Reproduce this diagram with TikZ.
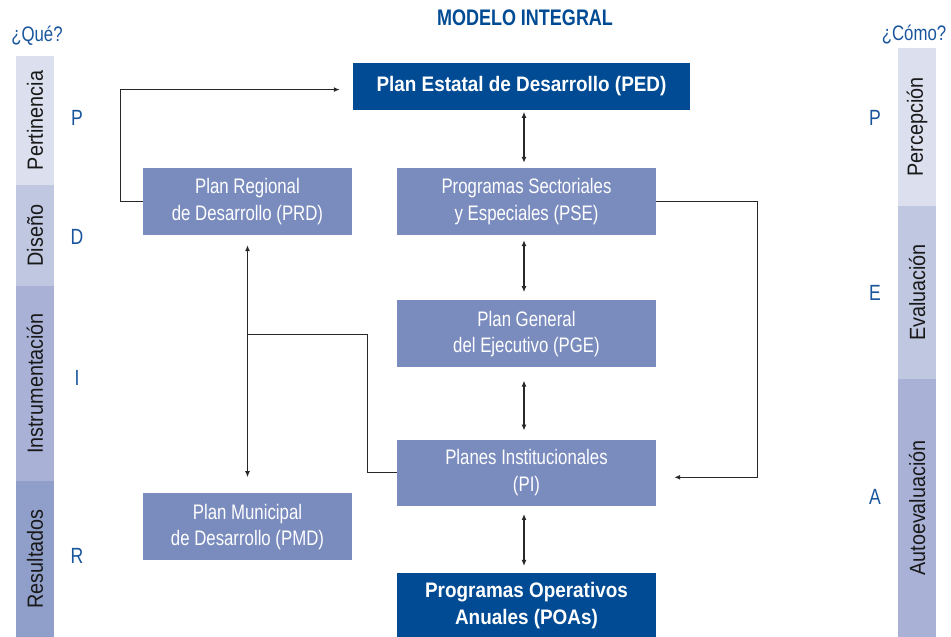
\documentclass[tikz,border=0pt]{standalone}
\usepackage{fontspec}
\setmainfont{Liberation Sans}
\newfontfamily\condfont[FakeStretch=0.8]{Liberation Sans}
\newfontfamily\halffont[FakeStretch=0.9]{Liberation Sans}
\usetikzlibrary{positioning,arrows.meta}
\definecolor{azul}{RGB}{0,75,147}
\definecolor{azulclaro}{RGB}{122,139,190}
\definecolor{letra}{RGB}{25,85,157}
\definecolor{barA}{RGB}{220,223,238}
\definecolor{barB}{RGB}{192,199,224}
\definecolor{barC}{RGB}{169,178,214}
\definecolor{barD}{RGB}{143,159,202}
\definecolor{linea}{RGB}{40,40,40}
\tikzset{
    plan/.style={
    rectangle,fill=azulclaro,text=white,align=center,inner sep=0pt,minimum height=67pt,font=\condfont\fontsize{21}{26.5}\selectfont
    },
    planfuerte/.style={
    rectangle,fill=azul,text=white,align=center,inner sep=0pt,font=\halffont\bfseries\fontsize{21}{27}\selectfont
    },
    barra/.style={
    rectangle,rotate=90,minimum height=38pt,inner sep=0pt,text=black!90,font=\halffont\fontsize{22}{24}\selectfont
    },
    inicial/.style={text=letra,font=\condfont\fontsize{22}{24}\selectfont},
    pregunta/.style={text=letra,font=\condfont\fontsize{21}{24}\selectfont},
  line/.style={draw=linea, line width=1.3pt},
  dbl/.style={line, {Latex[length=6pt,width=5pt]}-{Latex[length=6pt,width=5pt]}},
  one/.style={line, -{Latex[length=6pt,width=5pt]}}
}
\begin{document}
\begin{tikzpicture}[x=1pt,y=1pt]
    \useasboundingbox (0,0) rectangle (951,637);

    \node[text=azul,font=\condfont\bfseries\fontsize{22.5}{24}\selectfont] (titulo) at (525,619) {MODELO INTEGRAL};

    \node[plan,minimum width=259pt] (pse) at (526.5,435.5) {Programas Sectoriales\\y Especiales (PSE)};
    \node[planfuerte,minimum width=337pt,minimum height=47pt,above=58pt of pse,xshift=-5pt] (ped) {Plan Estatal de Desarrollo (PED)};
    \node[plan,minimum width=259pt,below=65pt of pse] (pge) {Plan General\\del Ejecutivo (PGE)};
    \node[plan,minimum width=259pt,minimum height=66pt,below=72pt of pge] (pi) {Planes Institucionales\\(PI)};
    \node[planfuerte,minimum width=259pt,minimum height=64pt,below=67pt of pi] (poas) {Programas Operativos\\Anuales (POAs)};

    \node[plan,minimum width=209pt] (prd) at (247.5,435.5) {Plan Regional\\de Desarrollo (PRD)};
    \node[plan,minimum width=209pt,below=258pt of prd] (pmd) {Plan Municipal\\de Desarrollo (PMD)};

    \node[barra,fill=barA,minimum width=129pt] (pert) at (35,516.5) {Pertinencia};
    \node[barra,fill=barB,minimum width=101pt] (dise) at (35,401.5) {Diseño};
    \node[barra,fill=barC,minimum width=195pt] (inst) at (35,253.5) {Instrumentación};
    \node[barra,fill=barD,minimum width=156pt] (resu) at (35,78) {Resultados};

    \node[barra,fill=barA,minimum width=158pt] (perc) at (917,510) {Percepción};
    \node[barra,fill=barB,minimum width=173pt] (eval) at (917,344.5) {Evaluación};
    \node[barra,fill=barC,minimum width=258pt] (auto) at (917,129) {Autoevaluación};

    \node[pregunta] (que) at (37,601) {¿Qué?};
    \node[pregunta] (como) at (914,602) {¿Cómo?};

    \node[inicial] (iP) at (77,519) {P};
    \node[inicial] (iD) at (77,400) {D};
    \node[inicial] (iI) at (77,259) {I};
    \node[inicial] (iR) at (77,81) {R};
    \node[inicial] (iP2) at (875,519) {P};
    \node[inicial] (iE) at (875,344) {E};
    \node[inicial] (iA) at (875,140) {A};

    \coordinate[below=99pt of prd.south] (br);

    \begin{scope}
      \draw[dbl,shorten <=2pt,shorten >=5pt] ([xshift=-2.5pt]pse.north |- ped.south) -- ([xshift=-2.5pt]pse.north);
      \draw[dbl,shorten <=5pt,shorten >=8pt] ([xshift=-2.5pt]pse.south) -- ([xshift=-2.5pt]pge.north);
      \draw[dbl,shorten <=13pt,shorten >=9pt] ([xshift=-2.5pt]pge.south) -- ([xshift=-2.5pt]pi.north);
      \draw[dbl,shorten <=8pt,shorten >=7pt] ([xshift=-2.5pt]pi.south) -- ([xshift=-2.5pt]poas.north);
      \draw[dbl,shorten <=10pt,shorten >=16pt] (prd) -- (pmd);

      \draw[line] (br) -| ([xshift=-29pt]pi.west) -- (pi.west);
      \draw[one,shorten >=13pt] (prd.west) -- ++(-22,0) |- ([yshift=-3.5pt]ped.west);
      \draw[one,shorten >=18pt] (pse.east) -- ++(101,0) |- ([yshift=-4.5pt]pi.east);
    \end{scope}
\end{tikzpicture}
\end{document}
